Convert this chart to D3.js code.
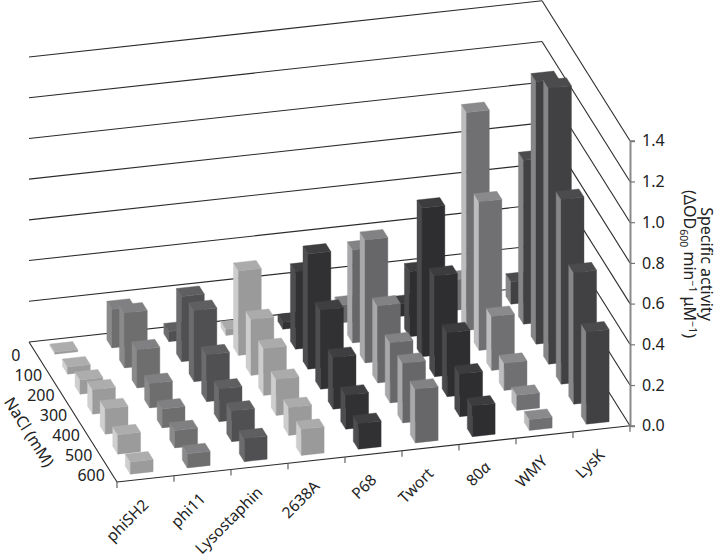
<!DOCTYPE html>
<html>
<head>
<meta charset="utf-8">
<script src="https://cdn.jsdelivr.net/npm/d3@7"></script>
<style>
  html, body { margin: 0; padding: 0; background: #fff; }
  svg { display: block; }
  text { font-family: "Noto Sans", sans-serif; fill: #222; }
</style>
</head>
<body>
<div id="chart"></div>
<script>
// Enzymes along the front edge, NaCl levels along the depth axis
const categories = ['phiSH2', 'phi11', 'Lysostaphin', '2638A', 'P68', 'Twort', '80α', 'WMY', 'LysK'];
const naclLevels = [0, 100, 200, 300, 400, 500, 600];
const activityTicks = [0, 0.2, 0.4, 0.6, 0.8, 1.0, 1.2, 1.4];

// Specific activity per enzyme, one value per NaCl level
const phiSH2 = [0.01, 0.035, 0.07, 0.12, 0.125, 0.095, 0.06];
const phi11 = [0.19, 0.27, 0.187, 0.12, 0.093, 0.085, 0.07];
const lysostaphin = [0.05, 0.32, 0.35, 0.23, 0.16, 0.15, 0.113];
const p2638A = [0.03, 0.415, 0.275, 0.23, 0.177, 0.137, 0.128];
const p68 = [0.034, 0.38, 0.565, 0.388, 0.254, 0.167, 0.126];
const twort = [0.088, 0.457, 0.604, 0.378, 0.295, 0.293, 0.264];
const p80a = [0.06, 0.32, 0.73, 0.494, 0.314, 0.21, 0.15];
const wmy = [0.15, 1.07, 0.73, 0.265, 0.133, 0.074, 0.054];
const lysK = [0.11, 0.805, 1.29, 1.355, 0.907, 0.645, 0.453];
const seriesValues = [phiSH2, phi11, lysostaphin, p2638A, p68, twort, p80a, wmy, lysK];

// Face colours per enzyme: front, left side, top
const frontColors = ['#9b9b9b', '#6e6e6e', '#505052', '#9a9a9a', '#313032', '#676769', '#2e2d2f', '#707073', '#414143'];
const sideColors = ['#cfcfcf', '#8a8a8a', '#6c6c6e', '#cdcdcd', '#4e4d4f', '#a8a8aa', '#4a494b', '#bcbcbe', '#868688'];
const topColors = ['#adadad', '#808082', '#5f5f61', '#ababab', '#3f3e40', '#828284', '#3c3b3d', '#8a8a8c', '#4b4b4d'];

const config = {
    width: 718,
    height: 558,
    origin: [29, 342],      // back left corner of the floor
    stepCol: [57, -6.25],   // one enzyme along the front edge
    stepRow: [12.57, 20],   // one NaCl level along the depth axis
    wallHeight: 285,
    fontSize: '16px'
};

const svg = d3.select('#chart')
    .append('svg')
    .attr('width', config.width)
    .attr('height', config.height);

// Scales in floor units, a bar takes 40% of its cell in both directions
const colScale = d3.scaleBand().domain(categories).range([0, categories.length]).paddingInner(0.6).paddingOuter(0.3);
const rowScale = d3.scaleBand().domain(naclLevels).range([0, naclLevels.length]).paddingInner(0.6).paddingOuter(0.3);
const heightScale = d3.scaleLinear().domain([0, 1.4]).range([0, config.wallHeight]);

const nCols = categories.length;
const nRows = naclLevels.length;

/**
 * Oblique projection of a floor position (u, v) raised by h pixels
 */
function project(u, v, h = 0) {
    return [
        config.origin[0] + u * config.stepCol[0] + v * config.stepRow[0],
        config.origin[1] + u * config.stepCol[1] + v * config.stepRow[1] - h
    ];
}

function drawLine(a, b, color, width) {
    svg.append('line')
        .attr('x1', a[0]).attr('y1', a[1])
        .attr('x2', b[0]).attr('y2', b[1])
        .attr('stroke', color)
        .attr('stroke-width', width);
}

// Wall grid lines
activityTicks.forEach(t => {
    const h = heightScale(t);
    drawLine(project(0, 0, h), project(nCols, 0, h), '#2b2b2b', 1.1);
    drawLine(project(nCols, 0, h), project(nCols, nRows, h), '#2b2b2b', 1.1);
});

// Floor edges
drawLine(project(0, 0), project(0, nRows), '#2b2b2b', 1.1);
drawLine(project(0, nRows), project(nCols, nRows), '#2b2b2b', 1.1);

// Category ticks on the front edge
d3.range(nCols + 1).forEach(i => {
    const p = project(i, nRows);
    drawLine(p, [p[0], p[1] + 6], '#555', 1.1);
});

// Bars, back to front and right to left so nearer bars paint over
const line = d3.line();
const barsGroup = svg.append('g');
for (let r = 0; r < nRows; r++) {
    for (let c = nCols - 1; c >= 0; c--) {
        const u0 = colScale(categories[c]);
        const u1 = u0 + colScale.bandwidth();
        const v0 = rowScale(naclLevels[r]);
        const v1 = v0 + rowScale.bandwidth();
        const h = heightScale(seriesValues[c][r]);

        const faces = [
            { pts: [project(u0, v0), project(u0, v1), project(u0, v1, h), project(u0, v0, h)], fill: sideColors[c] },
            { pts: [project(u0, v1), project(u1, v1), project(u1, v1, h), project(u0, v1, h)], fill: frontColors[c] },
            { pts: [project(u0, v0, h), project(u1, v0, h), project(u1, v1, h), project(u0, v1, h)], fill: topColors[c] }
        ];
        faces.forEach(f => {
            barsGroup.append('path')
                .attr('d', line(f.pts) + 'Z')
                .attr('fill', f.fill)
                .attr('stroke', f.fill)
                .attr('stroke-width', 0.4);
        });
    }
}

// Value axis at the front right corner
const axisBase = project(nCols, nRows);
const axisScale = d3.scaleLinear().domain([0, 1.4]).range([axisBase[1], axisBase[1] - config.wallHeight]);
const axis = svg.append('g')
    .attr('transform', `translate(${axisBase[0]},0)`)
    .call(d3.axisRight(axisScale).tickValues(activityTicks).tickFormat(d3.format('.1f')).tickSize(5).tickPadding(7));
axis.select('.domain').attr('stroke', '#8a8a8a').attr('stroke-width', 2);
axis.selectAll('.tick line').attr('stroke', '#777').attr('stroke-width', 1.2);
axis.selectAll('.tick text')
    .style('font-family', '"Noto Sans", sans-serif')
    .style('font-size', config.fontSize)
    .attr('fill', '#222');

// Value axis title
const titleGroup = svg.append('g').attr('transform', 'translate(700.5,264) rotate(90)');
titleGroup.append('text')
    .attr('text-anchor', 'middle')
    .attr('y', 0)
    .style('font-size', config.fontSize)
    .text('Specific activity');
const unitText = titleGroup.append('text')
    .attr('text-anchor', 'middle')
    .attr('y', 16.5)
    .style('font-size', config.fontSize);
unitText.append('tspan').text('(ΔOD');
unitText.append('tspan').attr('dy', 4).style('font-size', '10.5px').text('600');
unitText.append('tspan').attr('dy', -4).text(' min');
unitText.append('tspan').attr('dy', -5).style('font-size', '10.5px').text('−1');
unitText.append('tspan').attr('dy', 5).text(' μM');
unitText.append('tspan').attr('dy', -5).style('font-size', '10.5px').text('−1');
unitText.append('tspan').attr('dy', 5).text(')');

// NaCl labels along the left floor edge
naclLevels.forEach(level => {
    const p = project(0, rowScale(level) + rowScale.bandwidth() / 2);
    svg.append('text')
        .attr('x', p[0] - 19.5)
        .attr('y', p[1] + 9)
        .attr('text-anchor', 'middle')
        .style('font-size', config.fontSize)
        .text(level);
});

const edgeMid = project(0, nRows / 2);
svg.append('text')
    .attr('transform', `translate(${edgeMid[0] - 48.6},${edgeMid[1] + 23}) rotate(57.8)`)
    .attr('text-anchor', 'middle')
    .style('font-size', config.fontSize)
    .text('NaCl (mM)');

// Category labels below the front edge
categories.forEach((name, i) => {
    const p = project(i + 0.5, nRows);
    const label = svg.append('text')
        .attr('transform', `translate(${p[0] + 4},${p[1] + 27}) rotate(-45)`)
        .attr('text-anchor', 'end')
        .style('font-size', '15.5px');
    if (name.endsWith('α')) {
        label.append('tspan').text(name.slice(0, -1));
        label.append('tspan').style('font-style', 'italic').text('α');
    } else {
        label.text(name);
    }
});
</script>
</body>
</html>
